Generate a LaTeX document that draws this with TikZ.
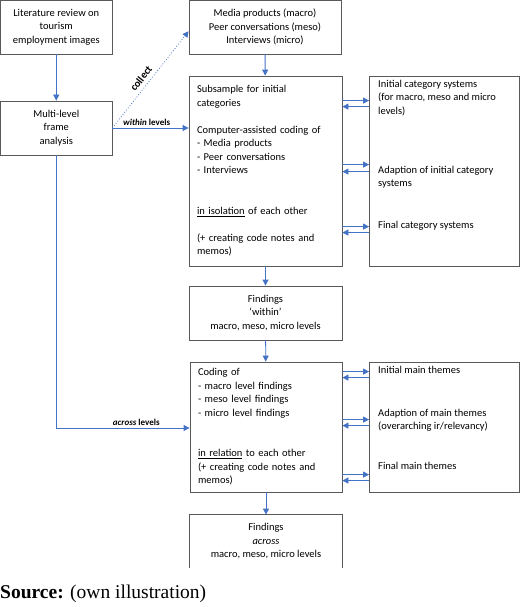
\documentclass[tikz,border=0pt]{standalone}
\usepackage{fontspec}
\setmainfont{Carlito}
\newfontfamily\srcfont{Liberation Serif}
\usepackage{tikz}
\usetikzlibrary{arrows.meta,positioning}
\definecolor{flowblue}{HTML}{4472C4}

\begin{document}
\begin{tikzpicture}[x=1pt,y=-1pt,->,>={Triangle[length=6pt,width=6pt]},thin,
	font=\fontsize{10.5}{13.5}\selectfont]
	\tikzstyle{box}=[draw=black!65,line width=0.8pt,inner sep=0pt,align=center]
	\tikzstyle{flow}=[draw=flowblue,line width=0.8pt]
	\tikzstyle{every edge}=[draw,flow]
	\tikzstyle{tag}=[font=\fontsize{9}{10}\selectfont\bfseries,inner sep=1pt,text=black]

	\useasboundingbox (0,0) rectangle (520,607);

	\node[box,minimum width=111.5pt,minimum height=53.5pt] (lit)   at (56.25,27.25)  {Literature review on\\tourism\\employment images};
	\node[box,minimum width=111.5pt,minimum height=54pt]   (multi) at (56.25,128)    {Multi-level\\frame\\analysis};
	\node[box,minimum width=152pt,minimum height=53.5pt]   (media) at (265,27.25)    {Media products (macro)\\Peer conversations (meso)\\Interviews (micro)};
	\node[box,minimum width=153pt,minimum height=190pt,text width=137pt,align=left] (sub) at (265.5,171)
		{Subsample for initial\\categories\\[13.5pt]Computer-assisted coding of\\- Media products\\- Peer conversations\\- Interviews\\[27pt]\underline{in isolation} of each other\\[13.5pt](+ creating code notes and\\memos)};
	\node[box,minimum width=150pt,minimum height=190pt]   (cat)    at (444.5,171)    {};
	\node[box,minimum width=153pt,minimum height=54pt]    (within) at (265.5,313)    {Findings\\`within'\\macro, meso, micro levels};
	\node[box,minimum width=152pt,minimum height=130pt,text width=136pt,align=left] (coding) at (266,427)
		{Coding of\\- macro level findings\\- meso level findings\\- micro level findings\\[27pt]\underline{in relation} to each other\\(+ creating code notes and\\memos)};
	\node[box,minimum width=150pt,minimum height=130pt]   (themes) at (444.5,427)    {};
	\node[box,draw=none,minimum width=152pt,minimum height=53pt] (across) at (266,541.5) {Findings\\\textit{across}\\macro, meso, micro levels};
	\draw[-,draw=black!65,line width=0.8pt] (across.south west) -- (across.north west) -- (across.north east) -- (across.south east);

	\node[anchor=north west,align=left,inner sep=0pt] (cat1) at (378,80)  {Initial category systems\\(for macro, meso and micro\\levels)};
	\node[anchor=north west,align=left,inner sep=0pt] (cat2) at (378,166) {Adaption of initial category\\systems};
	\node[anchor=north west,align=left,inner sep=0pt] (cat3) at (378,221) {Final category systems};
	\node[anchor=north west,align=left,inner sep=0pt] (thm1) at (378,366) {Initial main themes};
	\node[anchor=north west,align=left,inner sep=0pt] (thm2) at (378,409) {Adaption of main themes\\(overarching ir/relevancy)};
	\node[anchor=north west,align=left,inner sep=0pt] (thm3) at (378,462) {Final main themes};

	\coordinate (turn) at (multi.south |- 0,428);

	\path (lit)    edge (multi)
	      (media)  edge (sub)
	      (sub)    edge (within)
	      (within) edge (coding)
	      (coding) edge (across.north)
	      (multi.east) edge[dotted] node[tag,font=\fontsize{10.5}{12}\selectfont\bfseries,sloped,above=3pt,pos=0.46] {collect} ([yshift=-4pt]media.west)
	      (multi.east) edge node[tag,above=1pt,pos=0.45] {\textit{within} levels} (sub.west |- multi.east);
	\draw[flow] (multi.south) |- node[tag,above=1pt,pos=0.8] {\textit{across} levels} (coding.west |- turn);

	% category systems, both ways
	\path ([yshift=-25pt]sub.north east)  edge ([yshift=-25pt]cat.north west)
	      ([yshift=-31pt]cat.north west)  edge ([yshift=-31pt]sub.north east)
	      ([yshift=-89pt]sub.north east)  edge ([yshift=-89pt]cat.north west)
	      ([yshift=-96pt]cat.north west)  edge ([yshift=-96pt]sub.north east)
	      ([yshift=-151pt]sub.north east) edge ([yshift=-151pt]cat.north west)
	      ([yshift=-157pt]cat.north west) edge ([yshift=-157pt]sub.north east);
	% main themes, both ways
	\path ([yshift=-10pt]coding.north east)  edge ([yshift=-10pt]themes.north west)
	      ([yshift=-16pt]themes.north west)  edge ([yshift=-16pt]coding.north east)
	      ([yshift=-58pt]coding.north east)  edge ([yshift=-58pt]themes.north west)
	      ([yshift=-64pt]themes.north west)  edge ([yshift=-64pt]coding.north east)
	      ([yshift=-113pt]coding.north east) edge ([yshift=-113pt]themes.north west)
	      ([yshift=-119pt]themes.north west) edge ([yshift=-119pt]coding.north east);

	\node[anchor=base west,inner sep=0pt,font=\srcfont\fontsize{19.5}{22}\selectfont] (src) at (0,598) {\textbf{Source:} (own illustration)};
\end{tikzpicture}
\end{document}
